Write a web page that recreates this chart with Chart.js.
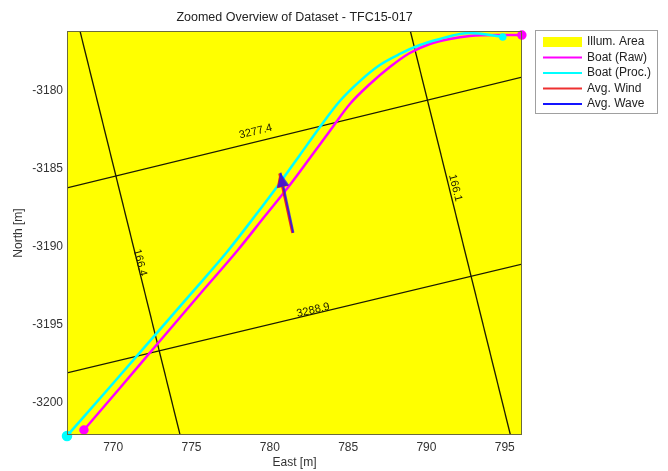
<!DOCTYPE html>
<html>
<head>
<meta charset="utf-8">
<script src="https://cdn.jsdelivr.net/npm/chart.js@4"></script>
<style>
html, body { margin: 0; padding: 0; background: #fff; }
</style>
</head>
<body>
<canvas id="chOverview" width="668" height="471"></canvas>
<script>
// axis limits + ticks
const eastLimits = [767.05, 796.1];
const northLimits = [-3202.05, -3176.15];
const eastTicks = [770, 775, 780, 785, 790, 795];
const northTicks = [-3200, -3195, -3190, -3185, -3180];

// illuminated area (polygon, extends past the view)
const areaEast = [764, 799, 799, 764];
const areaNorth = [-3205, -3205, -3173, -3173];

// boat tracks
const rawEast = [768.13, 770.43, 772.98, 775.54, 777.96, 779.69, 781.28, 782.56, 783.83, 785.11, 786.39, 787.66, 788.94, 790.22, 791.49, 792.77, 794.43, 796.09];
const rawNorth = [-3201.73, -3199.04, -3196.02, -3193.01, -3190.19, -3188.01, -3186.02, -3184.29, -3182.56, -3180.83, -3179.55, -3178.46, -3177.56, -3176.98, -3176.66, -3176.47, -3176.41, -3176.41];
const procEast = [767.05, 769.79, 772.35, 774.90, 777.26, 779.05, 780.64, 781.92, 783.20, 784.47, 785.75, 787.02, 788.30, 789.58, 790.85, 792.13, 792.77, 794.87];
const procNorth = [-3202.11, -3198.97, -3196.02, -3193.07, -3190.32, -3188.01, -3185.89, -3184.10, -3182.30, -3180.64, -3179.36, -3178.33, -3177.62, -3177.05, -3176.66, -3176.34, -3176.28, -3176.53];

// mean wind / wave direction arrows (tail -> tip)
const windEast = [781.45, 780.62];
const windNorth = [-3189.10, -3185.28];
const waveEast = [781.50, 780.68];
const waveNorth = [-3189.08, -3185.24];

// range / bearing contour lines
const contourLabels = ['3277.4', '3288.9', '166.4', '166.1'];
const contourEast = [[767.05, 796.12], [767.05, 796.12], [767.88, 774.27], [788.97, 795.36]];
const contourNorth = [[-3186.21, -3179.10], [-3198.07, -3191.09], [-3176.15, -3202.05], [-3176.15, -3202.05]];
const labelEast = [779.1, 782.77, 771.71, 791.84];
const labelNorth = [-3182.6, -3194.05, -3191.0, -3186.21];

const pts = (xs, ys) => xs.map((x, i) => ({x: x, y: ys[i]}));
const FONT = 'Liberation Sans, Arial, sans-serif';

const datasets = [
  {label: 'Avg. Wave', data: pts(waveEast, waveNorth), borderColor: 'rgba(20,20,255,0.75)', keyColor: '#1414ff', borderWidth: 2.2, pointRadius: 0, showLine: true, arrow: true, order: 0, clip: false},
  {label: 'Avg. Wind', data: pts(windEast, windNorth), borderColor: '#ee2020', keyColor: '#ee3030', borderWidth: 2.6, pointRadius: 0, showLine: true, arrow: true, order: 1, clip: false},
  {label: 'Boat (Proc.)', data: pts(procEast, procNorth), borderColor: '#00ffff', backgroundColor: '#00ffff', borderWidth: 2.5,
    cubicInterpolationMode: 'monotone',
    pointRadius: c => (c.dataIndex === 0 ? 4 : (c.dataIndex === procEast.length - 1 ? 2.5 : 0)), showLine: true, order: 2, clip: false},
  {label: 'Boat (Raw)', data: pts(rawEast, rawNorth), borderColor: '#ff00ff', backgroundColor: '#ff00ff', borderWidth: 2.5,
    cubicInterpolationMode: 'monotone',
    pointRadius: c => (c.dataIndex === 0 || c.dataIndex === rawEast.length - 1 ? 3.5 : 0), showLine: true, order: 3, clip: false}
];
contourLabels.forEach((lab, i) => {
  datasets.push({label: lab, data: pts(contourEast[i], contourNorth[i]), borderColor: '#1a1a00', borderWidth: 1.3,
    pointRadius: 0, showLine: true, contour: i, order: 5});
});
datasets.push({label: 'Illum. Area', data: pts(areaEast, areaNorth), borderWidth: 0, borderColor: '#ffff00',
  backgroundColor: '#ffff00', fill: 'shape', pointRadius: 0, showLine: true, legendPatch: true, order: 10});

// arrow heads for wind / wave (wind first so wave sits on top)
const arrowHeads = {
  id: 'arrowHeads',
  afterDatasetsDraw(chart) {
    const ctx = chart.ctx;
    const list = chart.data.datasets.map((ds, i) => i).filter(i => chart.data.datasets[i].arrow).reverse();
    list.forEach(i => {
      const ds = chart.data.datasets[i];
      const p = chart.getDatasetMeta(i).data;
      const a = p[0], b = p[p.length - 1];
      const ang = Math.atan2(b.y - a.y, b.x - a.x);
      const len = 14, half = 6;
      const bx = b.x - len * Math.cos(ang), by = b.y - len * Math.sin(ang);
      ctx.save();
      ctx.fillStyle = ds.borderColor;
      ctx.beginPath();
      ctx.moveTo(b.x, b.y);
      ctx.lineTo(bx + half * Math.sin(ang), by - half * Math.cos(ang));
      ctx.lineTo(bx - half * Math.sin(ang), by + half * Math.cos(ang));
      ctx.closePath();
      ctx.fill();
      ctx.restore();
    });
  }
};

// contour labels along the lines
const contourText = {
  id: 'contourText',
  afterDatasetsDraw(chart) {
    const ctx = chart.ctx, sx = chart.scales.x, sy = chart.scales.y;
    chart.data.datasets.forEach((ds, i) => {
      if (ds.contour === undefined) return;
      const k = ds.contour;
      const p = chart.getDatasetMeta(i).data;
      const ang = Math.atan2(p[1].y - p[0].y, p[1].x - p[0].x);
      ctx.save();
      ctx.translate(sx.getPixelForValue(labelEast[k]), sy.getPixelForValue(labelNorth[k]));
      ctx.rotate(ang);
      ctx.font = '11px ' + FONT;
      ctx.fillStyle = '#1a1a00';
      ctx.textAlign = 'center';
      ctx.textBaseline = 'middle';
      ctx.fillText(contourLabels[k], 0, 0);
      ctx.restore();
    });
  }
};

// axes box + legend box
const boxAndLegend = {
  id: 'boxAndLegend',
  afterDraw(chart) {
    const ctx = chart.ctx, a = chart.chartArea;
    ctx.save();
    ctx.strokeStyle = '#6b6b3a';
    ctx.lineWidth = 1;
    ctx.strokeRect(a.left + 0.5, a.top + 0.5, a.right - a.left - 1, a.bottom - a.top - 1);

    const items = ['Illum. Area', 'Boat (Raw)', 'Boat (Proc.)', 'Avg. Wind', 'Avg. Wave']
      .map(n => chart.data.datasets.find(d => d.label === n));
    const lx = a.right + 13, ly = 30, lw = 122, lh = 83;
    ctx.fillStyle = '#fff';
    ctx.fillRect(lx, ly, lw, lh);
    ctx.strokeStyle = '#a0a0a0';
    ctx.strokeRect(lx + 0.5, ly + 0.5, lw, lh);
    ctx.font = '12px ' + FONT;
    ctx.textBaseline = 'middle';
    ctx.textAlign = 'left';
    items.forEach((ds, i) => {
      const y = ly + 12 + i * 15.5;
      if (ds.legendPatch) {
        ctx.fillStyle = ds.backgroundColor;
        ctx.fillRect(lx + 8, y - 5, 39, 10);
      } else {
        ctx.strokeStyle = ds.keyColor || ds.borderColor;
        ctx.lineWidth = 2;
        ctx.beginPath();
        ctx.moveTo(lx + 8, y);
        ctx.lineTo(lx + 47, y);
        ctx.stroke();
      }
      ctx.fillStyle = '#222';
      ctx.fillText(ds.label, lx + 52, y);
    });
    ctx.restore();
  }
};

const tickFont = {family: FONT, size: 12};

new Chart(document.getElementById('chOverview'), {
  type: 'scatter',
  data: {datasets: datasets},
  options: {
    responsive: false,
    animation: false,
    events: [],
    layout: {padding: {left: 0, right: 146, top: 0, bottom: 0}},
    plugins: {
      legend: {display: false},
      tooltip: {enabled: false},
      title: {
        display: true,
        text: 'Zoomed Overview of Dataset - TFC15-017',
        fullSize: false,
        color: '#222',
        font: {family: FONT, size: 12.5, weight: 'normal'},
        padding: {top: 10, bottom: 6}
      }
    },
    scales: {
      x: {
        type: 'linear', position: 'bottom',
        min: eastLimits[0], max: eastLimits[1],
        grid: {display: false, drawTicks: false},
        border: {display: false},
        ticks: {padding: 5, color: '#333', font: tickFont, callback: v => String(v)},
        title: {display: true, text: 'East [m]', color: '#333', font: tickFont, padding: {top: 0, bottom: 1}},
        afterBuildTicks: s => { s.ticks = eastTicks.map(v => ({value: v})); },
        afterFit: s => { s.height = 36; }
      },
      y: {
        type: 'linear', position: 'left',
        min: northLimits[0], max: northLimits[1],
        grid: {display: false, drawTicks: false},
        border: {display: false},
        ticks: {padding: 4, color: '#333', font: tickFont, callback: v => String(v)},
        title: {display: true, text: 'North [m]', color: '#333', font: tickFont, padding: {top: 11, bottom: 0}},
        afterBuildTicks: s => { s.ticks = northTicks.map(v => ({value: v})); },
        afterFit: s => { s.width = 67; }
      }
    }
  },
  plugins: [arrowHeads, contourText, boxAndLegend]
});
</script>
</body>
</html>
